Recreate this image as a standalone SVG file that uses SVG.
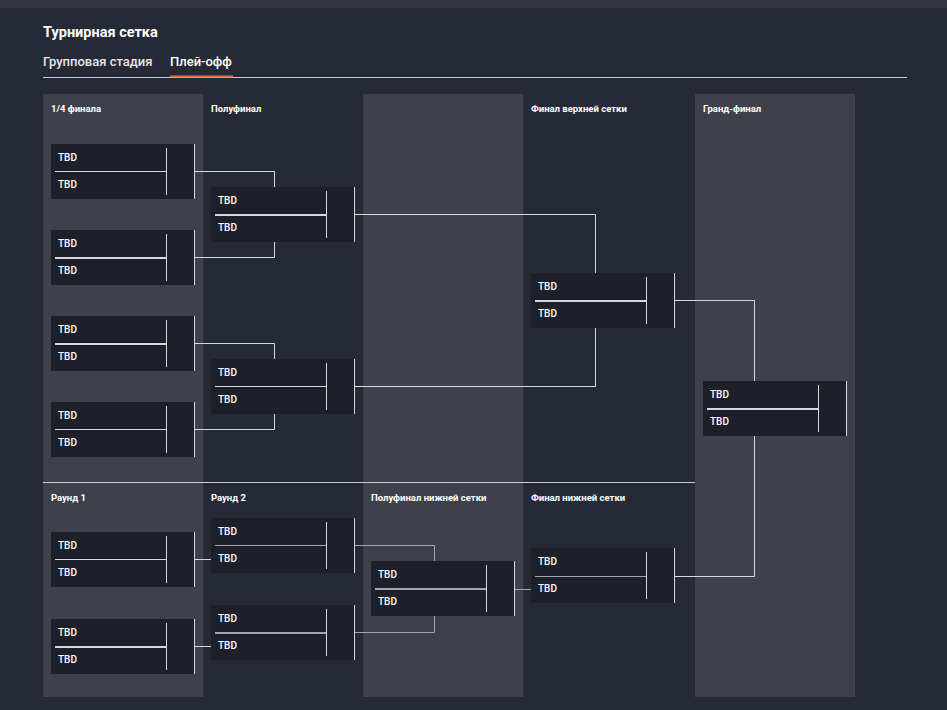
<svg xmlns="http://www.w3.org/2000/svg" width="947" height="710" viewBox="0 0 947 710">
<style>
text{font-family:Roboto,"Liberation Sans",sans-serif;}
.h{font-size:9.5px;font-weight:bold;fill:#ffffff;}
.t{font-size:10px;font-weight:500;fill:#ffffff;}
.box{fill:#1e2029;}
.in{stroke:#d5d8e2;stroke-width:1;fill:none;}
.c{stroke:#d5d8e2;stroke-width:1;fill:none;}
.cl{stroke:#a3a6ae;stroke-width:1;fill:none;}
.w{stroke-width:2;}
.col{fill:#3e414b;}
</style>
<defs>
<g id="m">
<rect class="box" x="0" y="0" width="144" height="55"/>
<text class="t" x="7" y="17">TBD</text>
<text class="t" x="7" y="44">TBD</text>
<line class="in" x1="115.5" y1="4" x2="115.5" y2="51"/>
<line class="in" x1="143.5" y1="0" x2="143.5" y2="55"/>
</g>
</defs>
<rect x="0" y="0" width="947" height="710" fill="#262a36"/>
<rect x="0" y="0" width="947" height="8" fill="#33363f"/>
<text x="43" y="37" style="font-size:14.5px;font-weight:bold;fill:#ffffff">Турнирная сетка</text>
<text x="43" y="66" style="font-size:13px;font-weight:500;fill:#e6e7ea">Групповая стадия</text>
<text x="170" y="66" style="font-size:13px;font-weight:500;fill:#ffffff">Плей-офф</text>
<line x1="43" y1="77.5" x2="907" y2="77.5" stroke="#c9cbd3" stroke-width="1"/>
<line x1="170" y1="76.5" x2="233" y2="76.5" stroke="#e0703a" stroke-width="2"/>
<rect class="col" x="43" y="94" width="160" height="603"/>
<rect class="col" x="363" y="94" width="160" height="603"/>
<rect class="col" x="695" y="94" width="160" height="603"/>
<line x1="43" y1="482.5" x2="695" y2="482.5" stroke="#c9cbd3" stroke-width="1"/>
<text class="h" x="51" y="112">1/4 финала</text>
<text class="h" x="211" y="112">Полуфинал</text>
<text class="h" x="531" y="112">Финал верхней сетки</text>
<text class="h" x="703" y="112">Гранд-финал</text>
<text class="h" x="51" y="501">Раунд 1</text>
<text class="h" x="211" y="501">Раунд 2</text>
<text class="h" x="371" y="501">Полуфинал нижней сетки</text>
<text class="h" x="531" y="501">Финал нижней сетки</text>
<g id="connectors">
<polyline class="c" points="195,171.5 274.5,171.5 274.5,187"/>
<polyline class="c" points="195,257.5 274.5,257.5 274.5,242"/>
<polyline class="c" points="195,343.5 274.5,343.5 274.5,359"/>
<polyline class="c" points="195,429.5 274.5,429.5 274.5,414"/>
<polyline class="c" points="355,214.5 595.5,214.5 595.5,273"/>
<polyline class="c" points="355,386.5 595.5,386.5 595.5,328"/>
<polyline class="c" points="675,300.5 754.5,300.5 754.5,381"/>
<polyline class="c" points="675,576.5 754.5,576.5 754.5,436"/>
<polyline class="c" points="195,559.5 211,559.5"/>
<polyline class="c" points="195,646.5 211,646.5"/>
<polyline class="cl" points="355,545.5 434.5,545.5 434.5,561"/>
<polyline class="cl" points="355,632.5 434.5,632.5 434.5,616"/>
<polyline class="cl" points="515,589.5 531,589.5"/>
</g>
<g id="qf1"><use href="#m" x="51" y="144"/><line class="in" x1="55" y1="171.5" x2="166" y2="171.5"/></g>
<g id="qf2"><use href="#m" x="51" y="230"/><line class="in w" x1="55" y1="258" x2="166" y2="258"/></g>
<g id="qf3"><use href="#m" x="51" y="316"/><line class="in w" x1="55" y1="344" x2="166" y2="344"/></g>
<g id="qf4"><use href="#m" x="51" y="402"/><line class="in" x1="55" y1="429.5" x2="166" y2="429.5"/></g>
<g id="sf1"><use href="#m" x="211" y="187"/><line class="in w" x1="215" y1="215" x2="326" y2="215"/></g>
<g id="sf2"><use href="#m" x="211" y="359"/><line class="in" x1="215" y1="386.5" x2="326" y2="386.5"/></g>
<g id="ubf"><use href="#m" x="531" y="273"/><line class="in w" x1="535" y1="301" x2="646" y2="301"/></g>
<g id="gf"><use href="#m" x="703" y="381"/><line class="in w" x1="707" y1="409" x2="818" y2="409"/></g>
<g id="r1a"><use href="#m" x="51" y="532"/><line class="in" x1="55" y1="559.5" x2="166" y2="559.5"/></g>
<g id="r1b"><use href="#m" x="51" y="619"/><line class="in w" x1="55" y1="647" x2="166" y2="647"/></g>
<g id="r2a"><use href="#m" x="211" y="518"/><line class="cl" x1="215" y1="545.5" x2="326" y2="545.5"/></g>
<g id="r2b"><use href="#m" x="211" y="605"/><line class="cl w" x1="215" y1="633" x2="326" y2="633"/></g>
<g id="lbsf"><use href="#m" x="371" y="561"/><line class="cl w" x1="375" y1="589" x2="486" y2="589"/></g>
<g id="lbf"><use href="#m" x="531" y="548"/><line class="cl" x1="535" y1="576.5" x2="646" y2="576.5"/></g>
</svg>
